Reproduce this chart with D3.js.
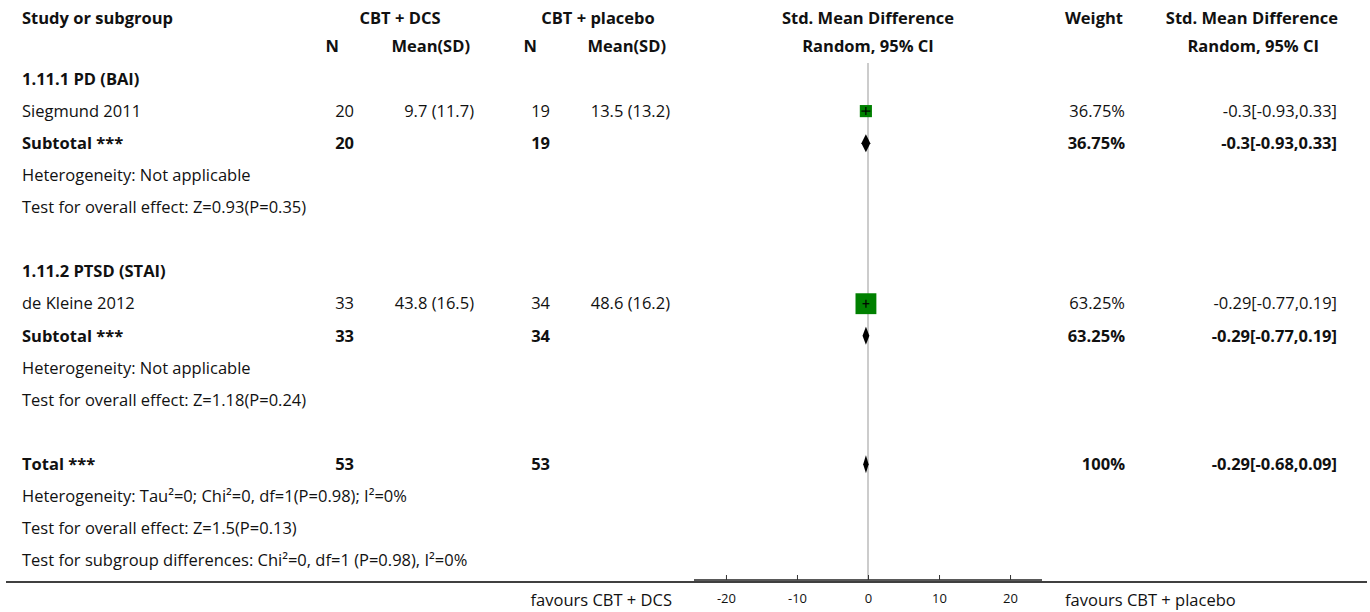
<!DOCTYPE html>
<html>
<head>
<meta charset="utf-8">
<script src="https://cdn.jsdelivr.net/npm/d3@7"></script>
<style>
  body { margin: 0; background: #fff; }
  text { font-family: "Open Sans", "Noto Sans", sans-serif; fill: #111; }
</style>
</head>
<body>
<svg id="forest" width="1370" height="612"></svg>
<script>
// study level data
const studies = ['Siegmund 2011', 'de Kleine 2012'];
const dcsN = [20, 33];
const dcsMeanSD = ['9.7 (11.7)', '43.8 (16.5)'];
const placeboN = [19, 34];
const placeboMeanSD = ['13.5 (13.2)', '48.6 (16.2)'];
const studySmd = [-0.3, -0.29];
const studyLow = [-0.93, -0.77];
const studyHigh = [0.33, 0.19];
const studyWeight = [36.75, 63.25];
const studyCI = ['-0.3[-0.93,0.33]', '-0.29[-0.77,0.19]'];

// subgroups
const subgroups = ['1.11.1 PD (BAI)', '1.11.2 PTSD (STAI)'];
const subDcsN = [20, 33];
const subPlaceboN = [19, 34];
const subSmd = [-0.3, -0.29];
const subLow = [-0.93, -0.77];
const subHigh = [0.33, 0.19];
const subWeight = ['36.75%', '63.25%'];
const subCI = ['-0.3[-0.93,0.33]', '-0.29[-0.77,0.19]'];
const subHet = ['Heterogeneity: Not applicable', 'Heterogeneity: Not applicable'];
const subTest = ['Test for overall effect: Z=0.93(P=0.35)', 'Test for overall effect: Z=1.18(P=0.24)'];

// overall
const totalN = [53, 53];
const totalSmd = -0.29, totalLow = -0.68, totalHigh = 0.09;
const totalCI = '-0.29[-0.68,0.09]';
const totalNotes = [
  'Heterogeneity: Tau\u00b2=0; Chi\u00b2=0, df=1(P=0.98); I\u00b2=0%',
  'Test for overall effect: Z=1.5(P=0.13)',
  'Test for subgroup differences: Chi\u00b2=0, df=1 (P=0.98), I\u00b2=0%'
];

const axisTicks = [-20, -10, 0, 10, 20];
const favourLeft = 'favours CBT + DCS';
const favourRight = 'favours CBT + placebo';

const svg = d3.select('#forest');

// build the row list
const rows = [];
subgroups.forEach((g, i) => {
  rows.push({type: 'heading', label: g});
  rows.push({type: 'study', label: studies[i], n1: dcsN[i], m1: dcsMeanSD[i], n2: placeboN[i], m2: placeboMeanSD[i],
    est: studySmd[i], lo: studyLow[i], hi: studyHigh[i], w: studyWeight[i], wt: studyWeight[i] + '%', ci: studyCI[i]});
  rows.push({type: 'subtotal', label: 'Subtotal ***', n1: subDcsN[i], n2: subPlaceboN[i],
    est: subSmd[i], lo: subLow[i], hi: subHigh[i], wt: subWeight[i], ci: subCI[i]});
  rows.push({type: 'note', label: subHet[i]});
  rows.push({type: 'note', label: subTest[i]});
  rows.push({type: 'blank', label: ''});
});
rows.push({type: 'subtotal', label: 'Total ***', n1: totalN[0], n2: totalN[1],
  est: totalSmd, lo: totalLow, hi: totalHigh, wt: '100%', ci: totalCI});
totalNotes.forEach(t => rows.push({type: 'note', label: t}));

const rowY = d3.scaleLinear().domain([0, 1]).range([79, 79 + 32.1]);
const x = d3.scaleLinear().domain([-24.5, 24.5]).range([694, 1042]);
const boxSize = d3.scaleLinear().domain([0, 100]).range([0, 33]);

const axisY = 580;
const fs = '16.5px';

// column positions
const col = {name: 22, n1: 354, m1: 474, n2: 550, m2: 670, wt: 1125, ci: 1337};

// headers
const hdr = svg.append('g').style('font-weight', 'bold').style('font-size', fs);
hdr.append('text').attr('x', col.name).attr('y', 18).attr('dy', '0.35em').text('Study or subgroup');
hdr.append('text').attr('x', 400).attr('y', 18).attr('dy', '0.35em').attr('text-anchor', 'middle').text('CBT + DCS');
hdr.append('text').attr('x', 598).attr('y', 18).attr('dy', '0.35em').attr('text-anchor', 'middle').text('CBT + placebo');
hdr.append('text').attr('x', 868).attr('y', 18).attr('dy', '0.35em').attr('text-anchor', 'middle').text('Std. Mean Difference');
hdr.append('text').attr('x', col.wt - 2).attr('y', 18).attr('dy', '0.35em').attr('text-anchor', 'end').text('Weight');
hdr.append('text').attr('x', col.ci + 1).attr('y', 18).attr('dy', '0.35em').attr('text-anchor', 'end').text('Std. Mean Difference');
hdr.append('text').attr('x', 339).attr('y', 46).attr('dy', '0.35em').attr('text-anchor', 'end').text('N');
hdr.append('text').attr('x', 470).attr('y', 46).attr('dy', '0.35em').attr('text-anchor', 'end').text('Mean(SD)');
hdr.append('text').attr('x', 537).attr('y', 46).attr('dy', '0.35em').attr('text-anchor', 'end').text('N');
hdr.append('text').attr('x', 666).attr('y', 46).attr('dy', '0.35em').attr('text-anchor', 'end').text('Mean(SD)');
hdr.append('text').attr('x', 868).attr('y', 46).attr('dy', '0.35em').attr('text-anchor', 'middle').text('Random, 95% CI');
hdr.append('text').attr('x', col.ci - 18).attr('y', 46).attr('dy', '0.35em').attr('text-anchor', 'end').text('Random, 95% CI');

// zero line
svg.append('line')
  .attr('x1', x(0)).attr('x2', x(0))
  .attr('y1', 63).attr('y2', axisY)
  .attr('stroke', '#999').attr('stroke-width', 1);

// rows text
const rowG = svg.selectAll('.row')
  .data(rows)
  .enter().append('g')
  .attr('class', 'row')
  .attr('transform', (d, i) => 'translate(0,' + rowY(i) + ')')
  .style('font-size', fs)
  .style('font-weight', d => (d.type === 'heading' || d.type === 'subtotal') ? 'bold' : 'normal');

rowG.append('text').attr('x', col.name).attr('dy', '0.35em').text(d => d.label);

const numRows = rowG.filter(d => d.type === 'study' || d.type === 'subtotal');
numRows.append('text').attr('x', col.n1).attr('dy', '0.35em').attr('text-anchor', 'end').text(d => d.n1);
numRows.append('text').attr('x', col.m1).attr('dy', '0.35em').attr('text-anchor', 'end').text(d => d.m1 || '');
numRows.append('text').attr('x', col.n2).attr('dy', '0.35em').attr('text-anchor', 'end').text(d => d.n2);
numRows.append('text').attr('x', col.m2).attr('dy', '0.35em').attr('text-anchor', 'end').text(d => d.m2 || '');
numRows.append('text').attr('x', col.wt).attr('dy', '0.35em').attr('text-anchor', 'end').text(d => d.wt);
numRows.append('text').attr('x', col.ci).attr('dy', '0.35em').attr('text-anchor', 'end').text(d => d.ci);

// study boxes
const studyRows = rowG.filter(d => d.type === 'study');
studyRows.append('rect')
  .attr('x', d => x(d.est) - boxSize(d.w) / 2)
  .attr('y', d => -boxSize(d.w) / 2)
  .attr('width', d => boxSize(d.w))
  .attr('height', d => boxSize(d.w))
  .attr('fill', '#008000');
studyRows.append('line')
  .attr('x1', d => x(d.lo)).attr('x2', d => x(d.hi))
  .attr('stroke', '#000').attr('stroke-width', 1.2);
studyRows.append('line')
  .attr('x1', d => x(d.est)).attr('x2', d => x(d.est))
  .attr('y1', -4).attr('y2', 4)
  .attr('stroke', '#000').attr('stroke-width', 1.2);

// diamonds
rowG.filter(d => d.type === 'subtotal').append('path')
  .attr('d', d => 'M' + x(d.lo) + ',0L' + x(d.est) + ',-9L' + x(d.hi) + ',0L' + x(d.est) + ',9Z')
  .attr('fill', '#000');

// bottom rule
svg.append('line')
  .attr('x1', 6).attr('x2', 1367)
  .attr('y1', axisY + 2).attr('y2', axisY + 2)
  .attr('stroke', '#000').attr('stroke-width', 1.5);

// axis
const axis = svg.append('g')
  .attr('transform', 'translate(0,' + axisY + ')')
  .call(d3.axisTop(x).tickValues(axisTicks).tickSize(5).tickFormat(d => String(d)));
axis.select('.domain').attr('d', 'M' + x.range()[0] + ',0H' + x.range()[1]).attr('stroke', '#222').attr('stroke-width', 1.5);
axis.selectAll('.tick line').attr('stroke', '#333');
axis.selectAll('.tick text')
  .attr('y', 18).attr('dy', '0.35em')
  .style('font-size', '13px')
  .style('font-family', '"Open Sans", sans-serif');

svg.append('text').attr('x', 672).attr('y', 600).attr('dy', '0.35em').attr('text-anchor', 'end')
  .style('font-size', fs).text(favourLeft);
svg.append('text').attr('x', 1065).attr('y', 600).attr('dy', '0.35em')
  .style('font-size', fs).text(favourRight);
</script>
</body>
</html>
